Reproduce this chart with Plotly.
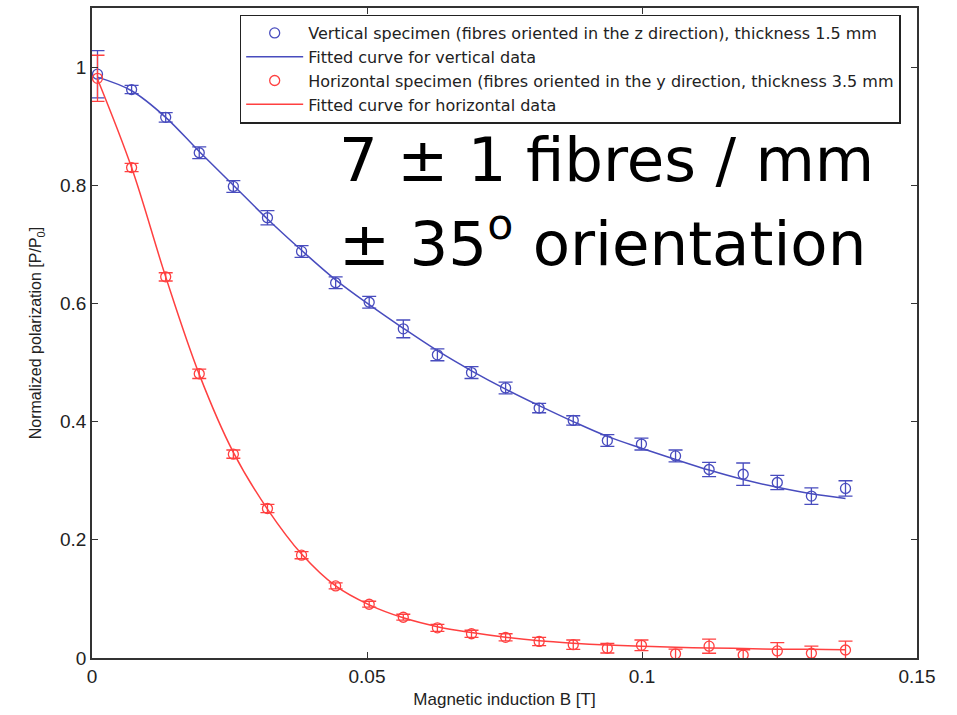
import plotly.graph_objects as go

# ---- data ----
B = [0.001, 0.0072, 0.0134, 0.0195, 0.0257, 0.0319, 0.0381, 0.0443, 0.0504, 0.0566,
     0.0628, 0.069, 0.0752, 0.0813, 0.0875, 0.0937, 0.0999, 0.1061, 0.1122, 0.1184,
     0.1246, 0.1308, 0.137]

vert_p = [0.988, 0.962, 0.915, 0.855, 0.798, 0.745, 0.688, 0.635, 0.602, 0.557,
          0.513, 0.483, 0.457, 0.423, 0.402, 0.368, 0.362, 0.342, 0.319, 0.311,
          0.297, 0.274, 0.287]
vert_err = [0.04, 0.007, 0.008, 0.01, 0.01, 0.012, 0.01, 0.01, 0.01, 0.015,
            0.01, 0.01, 0.01, 0.008, 0.008, 0.01, 0.01, 0.01, 0.012, 0.019,
            0.012, 0.014, 0.013]
vert_fit = [0.983, 0.96, 0.915, 0.857, 0.8, 0.743, 0.69, 0.64, 0.598, 0.558,
            0.52, 0.486, 0.455, 0.427, 0.4, 0.375, 0.355, 0.336, 0.318, 0.302,
            0.289, 0.278, 0.27]

horz_p = [0.981, 0.83, 0.645, 0.481, 0.345, 0.253, 0.174, 0.122, 0.091, 0.069,
          0.051, 0.041, 0.035, 0.028, 0.0225, 0.0165, 0.0215, 0.007, 0.02, 0.005,
          0.012, 0.008, 0.0135]
horz_err = [0.039, 0.007, 0.007, 0.008, 0.007, 0.007, 0.006, 0.005, 0.005, 0.005,
            0.006, 0.006, 0.006, 0.007, 0.008, 0.008, 0.009, 0.008, 0.012, 0.009,
            0.014, 0.012, 0.015]
horz_fit = [0.98, 0.83, 0.645, 0.48, 0.348, 0.252, 0.176, 0.122, 0.09, 0.068,
            0.053, 0.043, 0.035, 0.029, 0.025, 0.022, 0.02, 0.018, 0.017, 0.016,
            0.015, 0.015, 0.014]

x_ticks = [0, 0.05, 0.1, 0.15]
x_ticklabels = ["0", "0.05", "0.1", "0.15"]
y_ticks = [0, 0.2, 0.4, 0.6, 0.8, 1]
y_ticklabels = ["0", "0.2", "0.4", "0.6", "0.8", "1"]

BLUE = "rgb(72,76,190)"
RED = "rgb(255,64,64)"

fig = go.Figure()

fig.add_trace(go.Scatter(
    x=B, y=vert_p, mode="markers",
    name="Vertical specimen (fibres oriented in the z direction), thickness 1.5 mm",
    marker=dict(symbol="circle-open", size=10, color=BLUE, line=dict(width=1.3, color=BLUE)),
    error_y=dict(type="data", array=vert_err, visible=True, color=BLUE, thickness=1.3, width=7),
))
fig.add_trace(go.Scatter(
    x=B, y=vert_fit, mode="lines", line_shape="spline",
    name="Fitted curve for vertical data",
    line=dict(color=BLUE, width=1.5),
))
fig.add_trace(go.Scatter(
    x=B, y=horz_p, mode="markers",
    name="Horizontal specimen (fibres oriented in the y direction, thickness 3.5 mm",
    marker=dict(symbol="circle-open", size=10, color=RED, line=dict(width=1.3, color=RED)),
    error_y=dict(type="data", array=horz_err, visible=True, color=RED, thickness=1.3, width=7),
))
fig.add_trace(go.Scatter(
    x=B, y=horz_fit, mode="lines", line_shape="spline",
    name="Fitted curve for horizontal data",
    line=dict(color=RED, width=1.5),
))

axis_common = dict(
    showline=True, linecolor="#333333", linewidth=1.5, mirror="ticks",
    ticks="inside", ticklen=6, tickcolor="#333333", showgrid=False, zeroline=False,
    tickfont=dict(family="Liberation Sans, Arial, sans-serif", size=19, color="#222222"),
)

fig.update_layout(
    width=957, height=715,
    margin=dict(l=92, r=40, t=6, b=57),
    paper_bgcolor="white", plot_bgcolor="white",
    font=dict(family="Liberation Sans, Arial, sans-serif", color="#222222"),
    xaxis=dict(range=[0, 0.15], tickvals=x_ticks, ticktext=x_ticklabels,
               title=dict(text="Magnetic induction B [T]", font=dict(size=17), standoff=8),
               **axis_common),
    yaxis=dict(range=[0, 1.1], tickvals=y_ticks, ticktext=y_ticklabels,
               title=dict(text="Normalized polarization [P/P<sub>0</sub>]", font=dict(size=16), standoff=14),
               **axis_common),
    legend=dict(x=0.179, y=0.99, xanchor="left", yanchor="top",
                bgcolor="white", bordercolor="#222222", borderwidth=1.5,
                font=dict(family="DejaVu Sans, Verdana, sans-serif", size=16, color="#222222"),
                tracegroupgap=0, itemwidth=57),
    showlegend=True,
)

fig.add_annotation(x=0.297, y=0.767, xref="paper", yref="paper", xanchor="left", yanchor="middle",
                   text="7 ± 1 fibres / mm", showarrow=False,
                   font=dict(family="DejaVu Sans", size=61, color="black"))
fig.add_annotation(x=0.297, y=0.644, xref="paper", yref="paper", xanchor="left", yanchor="middle",
                   text="± 35<sup>o</sup> orientation", showarrow=False,
                   font=dict(family="DejaVu Sans", size=61, color="black"))

fig.write_html("out.html")
